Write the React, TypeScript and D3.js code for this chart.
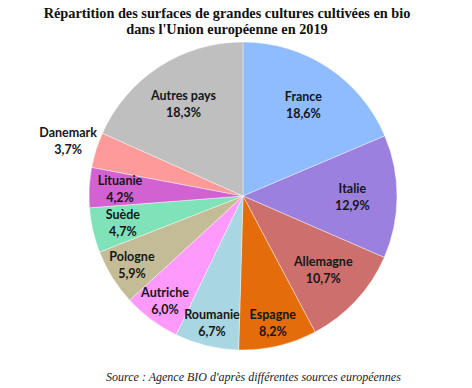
import React, { useRef, useEffect } from 'react'
import { select, pie, arc, PieArcDatum } from 'd3'

const countries = [
  'France',
  'Italie',
  'Allemagne',
  'Espagne',
  'Roumanie',
  'Autriche',
  'Pologne',
  'Suède',
  'Lituanie',
  'Danemark',
  'Autres pays',
]
const shares = [18.6, 12.9, 10.7, 8.2, 6.7, 6.0, 5.9, 4.7, 4.2, 3.7, 18.3]
const colors = [
  '#8fbbff',
  '#9b80e0',
  '#cd6f6d',
  '#e46c0a',
  '#a8d6e2',
  '#ff99fb',
  '#c4bc96',
  '#80e2b8',
  '#d262d2',
  '#ff9a9a',
  '#bfbfbf',
]
const titleLines = [
  'Répartition des surfaces de grandes cultures cultivées en bio',
  "dans l'Union européenne en 2019",
]
const sourceText = "Source : Agence BIO d'après différentes sources européennes"

type Slice = { name: string; value: number; color: string }

const fmt = (v: number) => v.toFixed(1).replace('.', ',') + '%'

function App() {
  const width = 472
  const height = 388
  const svgRef = useRef<SVGSVGElement>(null)

  useEffect(() => {
    const svg = select(svgRef.current)
    svg.selectAll('*').remove()

    const cx = 243
    const cy = 196
    const radius = 154

    const data: Slice[] = countries.map((name, i) => ({
      name,
      value: shares[i],
      color: colors[i],
    }))

    const arcs = pie<Slice>()
      .sort(null)
      .value((d) => d.value)(data)

    const arcGen = arc<PieArcDatum<Slice>>().innerRadius(0).outerRadius(radius)

    // label distance: big slices sit inward, tiny ones go outside
    const labelRadius = (v: number) =>
      v >= 10 ? radius * 0.71 : v < 4 ? radius * 1.19 : v < 5 ? radius * 0.8 : radius * 0.85

    const g = svg.append('g').attr('transform', `translate(${cx},${cy})`)

    g.selectAll('path')
      .data(arcs)
      .join('path')
      .attr('d', arcGen)
      .attr('fill', (d) => d.data.color)
      .attr('stroke', '#ffffff')
      .attr('stroke-width', 0.4)

    const labels = g
      .selectAll('g.label')
      .data(arcs)
      .join('g')
      .attr('class', 'label')
      .attr('transform', (d) => {
        const lr = labelRadius(d.data.value)
        const c = arc<PieArcDatum<Slice>>().innerRadius(lr).outerRadius(lr).centroid(d)
        return `translate(${c[0]},${c[1]})`
      })
      .attr('font-family', 'Lato, "Open Sans", sans-serif')
      .attr('font-weight', 'bold')
      .attr('font-size', 12.5)
      .attr('fill', '#161616')
      .attr('text-anchor', 'middle')

    labels
      .append('text')
      .attr('y', -4)
      .text((d) => d.data.name)
    labels
      .append('text')
      .attr('y', 13)
      .text((d) => fmt(d.data.value))

    svg
      .append('g')
      .selectAll('text')
      .data(titleLines)
      .join('text')
      .attr('x', 227)
      .attr('y', (d, i) => 18 + i * 15.5)
      .attr('text-anchor', 'middle')
      .attr('font-family', '"Liberation Serif", serif')
      .attr('font-weight', 'bold')
      .attr('font-size', 14.3)
      .attr('fill', '#111')
      .text((d) => d)

    svg
      .append('text')
      .attr('x', 106)
      .attr('y', 381)
      .attr('font-family', '"Liberation Serif", serif')
      .attr('font-style', 'italic')
      .attr('font-size', 12)
      .attr('fill', '#222')
      .text(sourceText)
  }, [])

  return (
    <svg
      ref={svgRef}
      width={width}
      height={height}
      style={{ position: 'absolute', left: 0, top: 0, background: '#fff' }}
    />
  )
}

export default App
